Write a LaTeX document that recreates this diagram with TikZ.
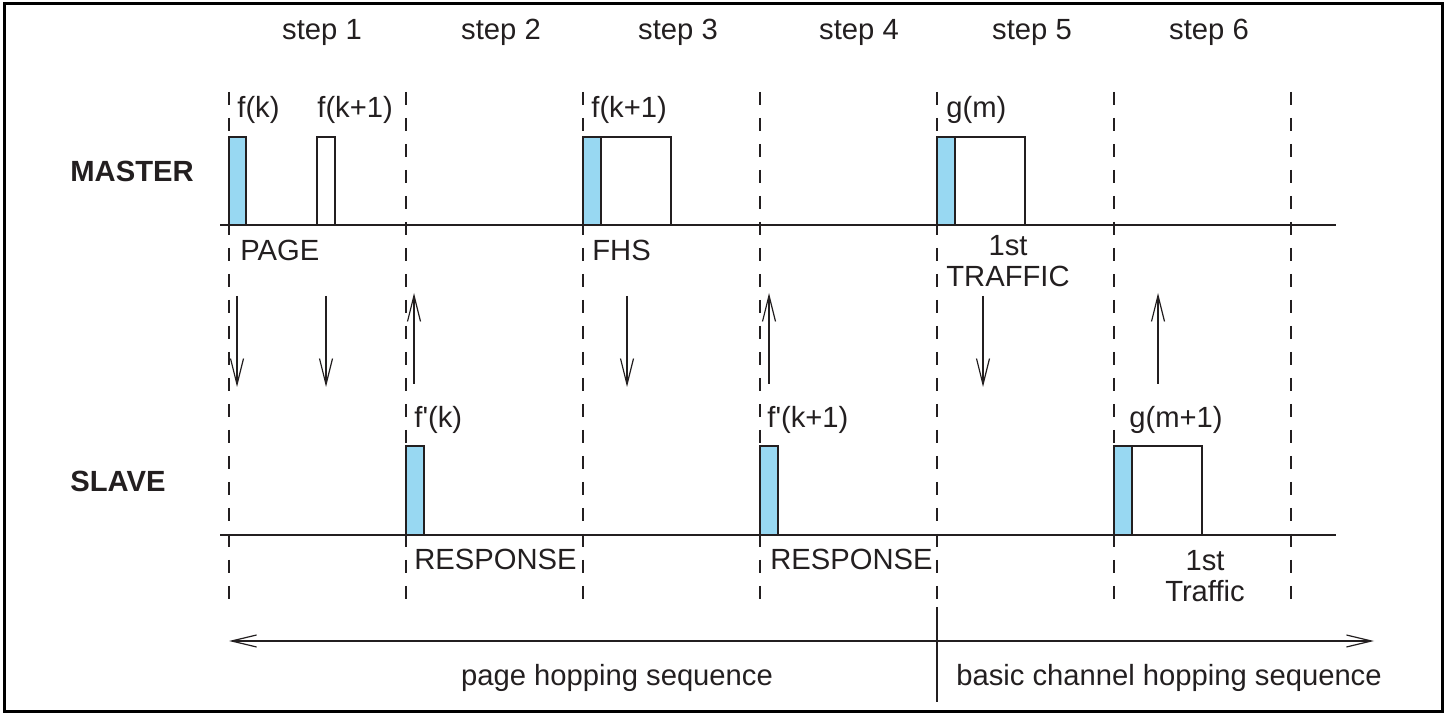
\documentclass[tikz,border=0pt]{standalone}
\usepackage{fontspec}
\setmainfont{Liberation Sans}[Ligatures=TeXOff]
\usetikzlibrary{arrows.meta}
\definecolor{pblue}{RGB}{152,216,242}
\definecolor{ink}{RGB}{35,31,32}
\begin{document}
\begin{tikzpicture}[x=0.5pt,y=-0.5pt,
  txt/.style={inner sep=0pt, font=\fontsize{14.6}{15.5}\selectfont, text=ink},
  lbl/.style={txt, anchor=base west},
  ctr/.style={txt, anchor=base, align=center},
  role/.style={txt, anchor=base west, font=\fontsize{14.6}{15.5}\selectfont\bfseries},
  slotline/.style={draw=ink, line width=0.6pt, dash pattern=on 6.5pt off 6.5pt},
  baseline/.style={draw=ink, line width=0.75pt},
  pkt/.style={draw=ink, line width=0.75pt, fill=white},
  ctl/.style={draw=ink, line width=0.75pt, fill=pblue},
  msg/.style={draw=ink, line width=0.6pt, -{Straight Barb[length=13pt,width=6.5pt,line width=0.6pt]}},
  seq/.style={draw=ink, line width=0.6pt, {Straight Barb[length=12.5pt,width=6pt,line width=0.6pt]}-{Straight Barb[length=12.5pt,width=6pt,line width=0.6pt]}}
]
\useasboundingbox (0,0) rectangle (1446,715);
\draw[line width=1.5pt] (4,4) rectangle (1442,711);

% step labels
\node[ctr] (s1) at (322,40) {step 1};
\node[ctr] (s2) at (501,40) {step 2};
\node[ctr] (s3) at (678,40) {step 3};
\node[ctr] (s4) at (859,40) {step 4};
\node[ctr] (s5) at (1032,40) {step 5};
\node[ctr] (s6) at (1209,40) {step 6};

% slot boundaries
\foreach \x/\n in {229/a,406/b,583/c,760/d,937/e,1114/f,1291/g}{
  \coordinate (top\n) at (\x,92);
  \coordinate (bot\n) at (\x,605);
  \draw[slotline] (top\n) -- (bot\n);
}

% time axes
\coordinate (mL) at (220,225); \coordinate (mR) at (1336,225);
\coordinate (sL) at (220,535); \coordinate (sR) at (1336,535);
\draw[baseline] (mL) -- (mR);
\draw[baseline] (sL) -- (sR);

% roles
\node[role] (master) at (70,182) {MASTER};
\node[role] (slave) at (70,492) {SLAVE};

% master packets
\draw[ctl] (229,225) rectangle (246,137);
\draw[pkt] (317,225) rectangle (335,137);
\draw[ctl] (583,225) rectangle (601,137);
\draw[pkt] (601,225) rectangle (671,137);
\draw[ctl] (937,225) rectangle (955,137);
\draw[pkt] (955,225) rectangle (1025,137);

% slave packets
\draw[ctl] (406,535) rectangle (424,446);
\draw[ctl] (760,535) rectangle (778,446);
\draw[ctl] (1114,535) rectangle (1132,446);
\draw[pkt] (1132,535) rectangle (1202,446);

% frequency labels
\node[lbl] (fk) at (237,118) {f(k)};
\node[lbl] (fk1a) at (317,118) {f(k+1)};
\node[lbl] (fk1b) at (591,118) {f(k+1)};
\node[lbl] (gm) at (946,118) {g(m)};
\node[lbl] (fpk) at (414,428) {f'(k)};
\node[lbl] (fpk1) at (767,428) {f'(k+1)};
\node[lbl] (gm1) at (1129,428) {g(m+1)};

% packet type labels
\node[lbl] (page) at (240,261) {PAGE};
\node[lbl] (fhs) at (592,261) {FHS};
\node[ctr] (tr1) at (1008,287) {1st\\[0.1pt]TRAFFIC};
\node[lbl] (resp1) at (414,570) {RESPONSE};
\node[lbl] (resp2) at (770,570) {RESPONSE};
\node[ctr] (tr2) at (1205,602) {1st\\[0.1pt]Traffic};

% message arrows
\coordinate (a1s) at (237,296); \coordinate (a1e) at (237,387);
\coordinate (a2s) at (326,296); \coordinate (a2e) at (326,387);
\coordinate (a3s) at (414,384); \coordinate (a3e) at (414,293);
\coordinate (a4s) at (627,296); \coordinate (a4e) at (627,387);
\coordinate (a5s) at (769,384); \coordinate (a5e) at (769,293);
\coordinate (a6s) at (983,296); \coordinate (a6e) at (983,387);
\coordinate (a7s) at (1158,384); \coordinate (a7e) at (1158,293);
\foreach \i in {1,...,7}{\draw[msg] (a\i s) -- (a\i e);}

% hopping sequences
\coordinate (hL) at (229,641); \coordinate (hR) at (1374,641);
\draw[seq] (hL) -- (hR);
\coordinate (dT) at (937,607); \coordinate (dB) at (937,702);
\draw[draw=ink, line width=0.6pt] (dT) -- (dB);
\node[ctr] (phs) at (617,686) {page hopping sequence};
\node[ctr] (bhs) at (1169,686) {basic channel hopping sequence};
\end{tikzpicture}
\end{document}
